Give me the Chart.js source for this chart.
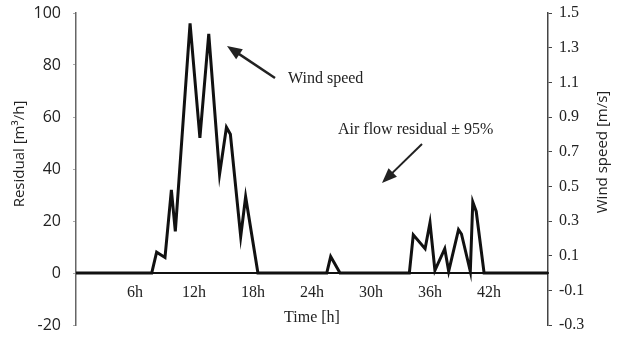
<!DOCTYPE html>
<html>
<head>
<meta charset="utf-8">
<script src="https://cdn.jsdelivr.net/npm/chart.js@4.4.0/dist/chart.umd.min.js"></script>
<style>
  html, body { margin: 0; padding: 0; background: #fff; }
</style>
</head>
<body>
<canvas id="chartVento" width="617" height="344"></canvas>
<script>
// Dados (tempo em horas, velocidade do vento em m/s)
const horas  = [0, 7.7, 8.2, 9.05, 9.7, 10.1, 11.6, 12.6, 13.5, 14.6, 15.3, 15.7, 16.75, 17.25, 18.5,
                25.5, 25.9, 26.85,
                33.9, 34.3, 35.5, 36.0, 36.5, 37.5, 37.9, 38.9, 39.2, 40.1, 40.35, 40.7, 41.5, 48];
const ventos = [0, 0, 0.12, 0.09, 0.48, 0.24, 1.44, 0.78, 1.38, 0.57, 0.84, 0.80, 0.21, 0.44, 0,
                0, 0.095, 0,
                0, 0.22, 0.14, 0.29, 0.015, 0.14, 0.01, 0.25, 0.225, 0.01, 0.41, 0.355, 0, 0];

const ticksTempo    = [6, 12, 18, 24, 30, 36, 42];
const ticksResiduo  = [-20, 0, 20, 40, 60, 80, 100];
const ticksVento    = [-0.3, -0.1, 0.1, 0.3, 0.5, 0.7, 0.9, 1.1, 1.3, 1.5];

const pontos = horas.map((h, i) => ({ x: h, y: ventos[i] }));

// desenha uma seta simples
function seta(ctx, x1, y1, x2, y2) {
    const ang = Math.atan2(y2 - y1, x2 - x1);
    const comp = 15, larg = 6;
    ctx.beginPath();
    ctx.moveTo(x1, y1);
    ctx.lineTo(x2 - Math.cos(ang) * comp * 0.8, y2 - Math.sin(ang) * comp * 0.8);
    ctx.stroke();
    ctx.beginPath();
    ctx.moveTo(x2, y2);
    ctx.lineTo(x2 - Math.cos(ang) * comp + Math.sin(ang) * larg, y2 - Math.sin(ang) * comp - Math.cos(ang) * larg);
    ctx.lineTo(x2 - Math.cos(ang) * comp - Math.sin(ang) * larg, y2 - Math.sin(ang) * comp + Math.cos(ang) * larg);
    ctx.closePath();
    ctx.fill();
}

const anotacoes = {
    id: 'anotacoes',
    afterDraw(chart) {
        const ctx = chart.ctx;
        ctx.save();
        ctx.fillStyle = '#222';
        ctx.strokeStyle = '#222';
        ctx.textBaseline = 'middle';

        // títulos dos eixos verticais
        ctx.font = '15px "Open Sans"';
        ctx.textAlign = 'center';
        ctx.save();
        ctx.translate(20, 154);
        ctx.rotate(-Math.PI / 2);
        ctx.fillText('Residual [m³/h]', 0, 0);
        ctx.restore();
        ctx.save();
        ctx.translate(603, 152);
        ctx.rotate(-Math.PI / 2);
        ctx.fillText('Wind speed [m/s]', 0, 0);
        ctx.restore();

        // textos e setas
        ctx.font = '16px "Liberation Serif"';
        ctx.textAlign = 'left';
        ctx.fillText('Wind speed', 288, 79);
        ctx.fillText('Air flow residual ± 95%', 338, 130);
        ctx.lineWidth = 2.5;
        seta(ctx, 275, 78, 227, 46);
        ctx.lineWidth = 2;
        seta(ctx, 422, 144, 382, 183);
        ctx.restore();
    }
};

// tira o espaço extra que os rótulos pedem em cima/embaixo
function ajustaEixo(largura) {
    return s => {
        s.width = largura;
        s.paddingTop = 0;
        s.paddingBottom = 0;
    };
}

const ctx = document.getElementById('chartVento').getContext('2d');
const chart = new Chart(ctx, {
    type: 'line',
    data: {
        datasets: [{
            label: 'Wind speed',
            data: pontos,
            yAxisID: 'y1',
            borderColor: '#111',
            borderWidth: 3,
            borderJoinStyle: 'miter',
            pointRadius: 0,
            tension: 0,
            fill: false
        }]
    },
    options: {
        responsive: false,
        animation: false,
        layout: { padding: { top: 13, bottom: 19, left: 0, right: 0 } },
        plugins: { legend: { display: false }, tooltip: { enabled: false } },
        scales: {
            x: {
                type: 'linear',
                min: 0,
                max: 48,
                position: { y: 0 },
                afterBuildTicks: s => { s.ticks = ticksTempo.map(v => ({ value: v })); },
                grid: { drawOnChartArea: false, drawTicks: false },
                border: { display: true, color: '#111', width: 2 },
                ticks: {
                    padding: 10,
                    color: '#222',
                    font: { family: 'Liberation Serif', size: 16 },
                    callback: v => v + 'h'
                },
                title: {
                    display: true,
                    text: 'Time [h]',
                    color: '#222',
                    font: { family: 'Liberation Serif', size: 16 },
                    padding: { top: -4, bottom: 0 }
                }
            },
            y: {
                position: 'left',
                min: -20,
                max: 100,
                afterBuildTicks: s => { s.ticks = ticksResiduo.map(v => ({ value: v })); },
                afterFit: ajustaEixo(76),
                grid: { drawOnChartArea: false, tickLength: 3, color: '#aaa' },
                border: { display: true, color: '#666', width: 1.5 },
                ticks: {
                    padding: 12,
                    color: '#222',
                    font: { family: 'Open Sans', size: 16 }
                }
            },
            y1: {
                position: 'right',
                min: -0.3,
                max: 1.5,
                afterBuildTicks: s => { s.ticks = ticksVento.map(v => ({ value: v })); },
                afterFit: ajustaEixo(69),
                grid: { drawOnChartArea: false, tickLength: 4, color: '#444' },
                border: { display: true, color: '#444', width: 1.5 },
                ticks: {
                    padding: 7,
                    color: '#222',
                    font: { family: 'Liberation Serif', size: 16 },
                    callback: v => v.toFixed(1)
                }
            }
        }
    },
    plugins: [anotacoes]
});
</script>
</body>
</html>
